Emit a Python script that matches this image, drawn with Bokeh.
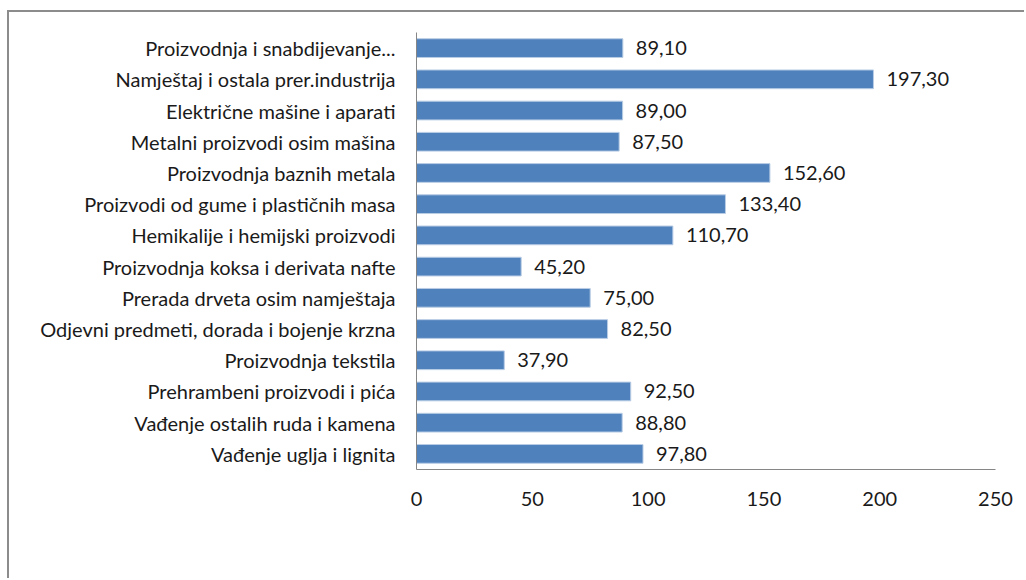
from bokeh.plotting import figure
from bokeh.models import (ColumnDataSource, FactorRange, Range1d, LabelSet, Legend,
                          LegendItem, InlineStyleSheet, LinearAxis)
from bokeh.core.properties import value
from bokeh.embed import file_html
from bokeh.resources import INLINE

categories = [
    "Proizvodnja i snabdijevanje...",
    "Namještaj i ostala prer.industrija",
    "Električne mašine i aparati",
    "Metalni proizvodi osim mašina",
    "Proizvodnja baznih metala",
    "Proizvodi od gume i plastičnih masa",
    "Hemikalije i hemijski proizvodi",
    "Proizvodnja koksa i derivata nafte",
    "Prerada drveta osim namještaja",
    "Odjevni predmeti, dorada i bojenje krzna",
    "Proizvodnja tekstila",
    "Prehrambeni proizvodi i pića",
    "Vađenje ostalih ruda i kamena",
    "Vađenje uglja i lignita",
]
values = [89.10, 197.30, 89.00, 87.50, 152.60, 133.40, 110.70, 45.20,
          75.00, 82.50, 37.90, 92.50, 88.80, 97.80]
series_name = "I-III 2012/I-III 2011 (Indeks)"
x_ticks = [0, 50, 100, 150, 200, 250]

labels = [f"{v:.2f}".replace(".", ",") for v in values]
src = ColumnDataSource(dict(cat=categories, val=values, lab=labels))

border_css = InlineStyleSheet(css="""
:host::after { content: ""; position: absolute; left: 7px; top: 10px;
  width: 1017px; height: 568px; border-top: 2px solid #8c8c8c;
  border-left: 2px solid #8c8c8c; box-sizing: border-box; pointer-events: none; }
""")

p = figure(frame_width=579, frame_height=437, output_backend="svg",
           toolbar_location=None,
           y_range=FactorRange(factors=list(reversed(categories)), range_padding=0),
           x_range=Range1d(0, 250),
           min_border_left=416, min_border_right=29, min_border_top=32,
           min_border_bottom=109, stylesheets=[border_css])
p.outline_line_color = None
p.grid.visible = False
p.background_fill_color = "white"
p.border_fill_color = "white"

r = p.hbar(y="cat", right="val", height=0.6, left=0, source=src,
           fill_color="#4F81BD", line_color="#B9CDE5", line_width=1)

p.add_layout(LabelSet(x="val", y="cat", text="lab", source=src, x_offset=13,
                      text_baseline="middle", text_font=value("Lato"),
                      text_font_size=value("20px"), text_color="#1a1a1a"))

# axes
xa = p.xaxis[0]
xa.ticker = x_ticks
xa.axis_line_color = "#868686"
xa.major_tick_out = 0
xa.major_tick_in = 0
xa.minor_tick_out = 0
xa.minor_tick_in = 0
xa.major_label_standoff = 22
xa.major_label_text_font = "Lato"
xa.major_label_text_font_size = "20px"
xa.major_label_text_color = "#1a1a1a"

ya = p.yaxis[0]
ya.axis_line_color = "#868686"
ya.major_tick_out = 0
ya.major_tick_in = 0
ya.major_label_standoff = 21
ya.major_label_text_font = "Lato"
ya.major_label_text_font_size = "20px"
ya.major_label_text_color = "#1a1a1a"

# invisible spacer between the x axis and the legend
spacer = LinearAxis(ticker=[0], axis_line_color=None, major_tick_out=0,
                    major_tick_in=0, minor_tick_out=0, minor_tick_in=0,
                    major_label_standoff=14, major_label_text_font_size="10px",
                    major_label_text_alpha=0)
p.add_layout(spacer, "below")

legend = Legend(items=[LegendItem(label=series_name, renderers=[r])],
                location="top_left", orientation="horizontal",
                glyph_width=9, glyph_height=9, label_standoff=6, padding=0,
                margin=0, border_line_color=None, background_fill_alpha=0,
                label_text_font="Lato", label_text_font_size="19.5px",
                label_text_color="#262626")
p.add_layout(legend, "below")

open("out.html", "w").write(file_html(p, INLINE))
